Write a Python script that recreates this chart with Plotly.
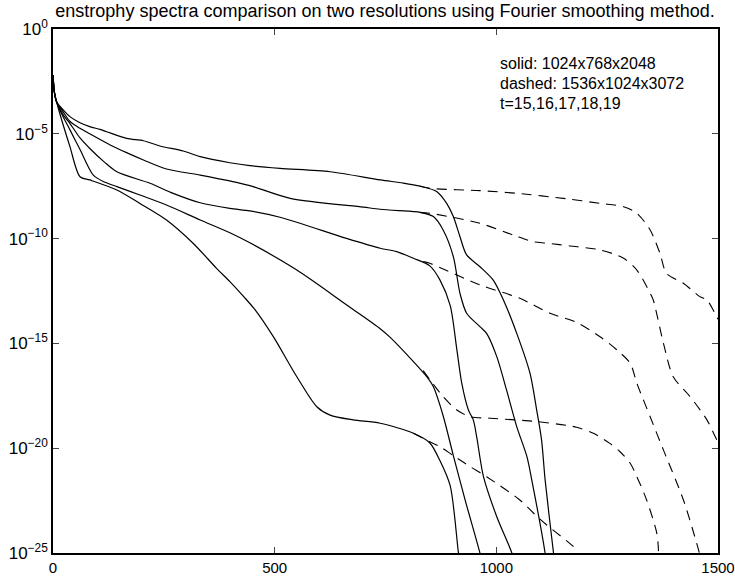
import plotly.graph_objects as go

# Enstrophy spectra, log10 values versus wavenumber k.
# Solid: 1024x768x2048 run, dashed: 1536x1024x3072 run, t = 15..19.

a_solid_k = [0, 3, 8, 23, 38, 61, 83, 106, 121, 166, 204, 241, 294, 332, 399, 444, 512, 625, 738, 790,
             828, 866, 888, 903, 918, 933, 963, 993, 1016, 1046, 1076, 1091, 1102, 1110, 1129, 1132]
a_solid_v = [-2.2, -3.0, -3.47, -3.86, -4.18, -4.47, -4.66, -4.79, -4.9, -5.22, -5.33, -5.58, -5.82, -6.09,
             -6.38, -6.52, -6.65, -6.81, -7.2, -7.35, -7.5, -7.76, -8.32, -8.95, -9.91, -10.78, -11.34,
             -11.98, -12.93, -14.52, -16.43, -18.18, -19.6, -21.5, -25.0, -25.5]
a_dash_k = [828, 850, 963, 1046, 1159, 1234, 1287, 1317, 1347, 1369, 1384, 1422, 1459, 1475, 1497, 1500]
a_dash_v = [-7.5, -7.6, -7.71, -7.84, -8.1, -8.32, -8.48, -8.79, -9.59, -10.7, -11.66, -12.13, -12.77,
            -12.93, -13.73, -13.85]

b_solid_k = [0, 3, 8, 23, 38, 61, 83, 129, 166, 204, 256, 332, 399, 444, 535, 700, 738, 813, 828, 858,
             880, 903, 918, 933, 963, 978, 1001, 1023, 1046, 1069, 1080, 1110, 1113]
b_solid_v = [-2.2, -3.0, -3.47, -3.95, -4.4, -4.74, -5.0, -5.53, -5.9, -6.25, -6.68, -6.97, -7.25, -7.47,
             -8.08, -8.5, -8.6, -8.71, -8.75, -8.95, -9.59, -10.86, -12.61, -13.56, -14.2, -14.52, -15.63,
             -17.22, -18.97, -20.4, -21.52, -25.0, -25.5]
b_dash_k = [828, 850, 963, 1038, 1083, 1114, 1166, 1234, 1287, 1317, 1347, 1354, 1377, 1399, 1437, 1475,
            1497, 1500]
b_dash_v = [-8.75, -8.79, -9.27, -9.83, -10.15, -10.22, -10.35, -10.54, -10.94, -11.5, -12.61, -12.93,
            -15.0, -16.59, -17.54, -18.65, -19.6, -19.75]

c_solid_k = [0, 3, 8, 23, 38, 61, 83, 116, 144, 219, 271, 332, 399, 444, 512, 662, 738, 775, 813, 850,
             873, 896, 911, 922, 937, 948, 956, 971, 1001, 1035, 1038]
c_solid_v = [-2.2, -3.0, -3.47, -4.1, -4.5, -5.2, -5.7, -6.35, -6.81, -7.36, -7.84, -8.29, -8.56, -8.68,
             -8.98, -9.99, -10.46, -10.62, -10.94, -11.3, -11.98, -13.2, -15.31, -16.9, -18.18, -18.65,
             -19.5, -21.36, -23.27, -25.0, -25.3]
c_dash_k = [835, 850, 963, 1053, 1121, 1181, 1234, 1272, 1302, 1317, 1347, 1377, 1422, 1452, 1458]
c_dash_v = [-11.1, -11.18, -12.21, -12.85, -13.56, -14.0, -14.68, -15.31, -15.95, -16.9, -18.5, -20.09,
            -22.47, -24.54, -25.0]

d_solid_k = [0, 3, 8, 23, 38, 61, 91, 116, 144, 196, 256, 332, 399, 444, 550, 647, 677, 738, 760, 813,
             843, 858, 880, 903, 930, 963, 966]
d_solid_v = [-2.2, -3.0, -3.47, -4.2, -4.8, -5.75, -6.97, -7.3, -7.52, -7.92, -8.4, -9.11, -9.72, -10.2,
             -11.5, -12.93, -13.38, -14.3, -14.7, -15.87, -16.59, -17.07, -18.45, -20.35, -22.5, -25.0,
             -25.3]
d_dash_k = [835, 858, 880, 911, 941, 986, 1091, 1181, 1219, 1256, 1279, 1302, 1317, 1339, 1362, 1366]
d_dash_v = [-16.3, -16.95, -17.54, -18.18, -18.5, -18.57, -18.73, -19.0, -19.29, -19.77, -20.17, -20.72,
            -21.36, -22.47, -24.06, -25.0]

e_solid_k = [0, 3, 8, 38, 61, 83, 144, 196, 256, 316, 369, 399, 437, 456, 497, 550, 595, 625, 677, 738,
             813, 850, 873, 896, 914, 917]
e_solid_v = [-2.2, -3.0, -3.47, -5.6, -7.05, -7.2, -7.68, -8.32, -9.11, -10.22, -11.42, -12.05, -12.93,
             -13.4, -14.68, -16.59, -18.02, -18.42, -18.65, -18.81, -19.29, -19.75, -20.6, -21.8, -24.9,
             -25.3]
e_dash_k = [813, 850, 873, 903, 941, 978, 1053, 1099, 1174, 1180]
e_dash_v = [-19.29, -19.69, -19.93, -20.35, -20.88, -21.36, -22.47, -23.4, -24.7, -24.85]

x_tick_vals = [0, 500, 1000, 1500]
y_tick_exps = [0, -5, -10, -15, -20, -25]
y_tick_text = ["10<sup>0</sup>", "10<sup>\u22125</sup>", "10<sup>\u221210</sup>",
               "10<sup>\u221215</sup>", "10<sup>\u221220</sup>", "10<sup>\u221225</sup>"]

title_text = "enstrophy spectra comparison on two resolutions using Fourier smoothing method."
note_lines = ["solid: 1024x768x2048", "dashed: 1536x1024x3072", "t=15,16,17,18,19"]

FONT = "Liberation Sans, Arial, Helvetica, sans-serif"

fig = go.Figure()

solid = [(a_solid_k, a_solid_v), (b_solid_k, b_solid_v), (c_solid_k, c_solid_v),
         (d_solid_k, d_solid_v), (e_solid_k, e_solid_v)]
dashed = [(a_dash_k, a_dash_v), (b_dash_k, b_dash_v), (c_dash_k, c_dash_v),
          (d_dash_k, d_dash_v), (e_dash_k, e_dash_v)]

for k, v in solid:
    fig.add_trace(go.Scatter(
        x=k, y=[10 ** e for e in v], mode="lines",
        line=dict(color="black", width=1.2, shape="spline", smoothing=0.8),
        showlegend=False, hoverinfo="skip"))

for k, v in dashed:
    fig.add_trace(go.Scatter(
        x=k, y=[10 ** e for e in v], mode="lines",
        line=dict(color="black", width=1.1, dash="10px,7px", shape="spline", smoothing=0.8),
        showlegend=False, hoverinfo="skip"))

for i, line in enumerate(note_lines):
    fig.add_annotation(
        x=0.669, y=0.9345 - i * 0.0382, xref="paper", yref="paper",
        xanchor="left", yanchor="middle", text=line, showarrow=False,
        font=dict(family=FONT, size=16, color="black"))

fig.update_layout(
    width=735, height=578,
    margin=dict(l=53, r=17, t=29, b=25),
    paper_bgcolor="white", plot_bgcolor="white",
    title=dict(text=title_text, x=385 / 735, xref="container", xanchor="center",
               y=1 - 11 / 578, yanchor="middle",
               font=dict(family=FONT, size=18, color="black")),
    font=dict(family=FONT, size=17, color="black"),
)

fig.update_xaxes(
    range=[0, 1500], tickvals=x_tick_vals, ticks="inside", ticklen=6, tickwidth=1,
    showline=True, linecolor="black", linewidth=1.5, mirror="all", automargin=False,
    ticklabeloverflow="allow",
    showgrid=False, zeroline=False, tickfont=dict(family=FONT, size=15, color="black"))

fig.update_yaxes(
    type="log", range=[-25, 0], tickvals=[10 ** e for e in y_tick_exps], ticktext=y_tick_text,
    ticks="inside", ticklen=6, tickwidth=1, automargin=False, ticklabeloverflow="allow",
    showline=True, linecolor="black", linewidth=1.5, mirror="all",
    showgrid=False, zeroline=False, tickfont=dict(family=FONT, size=17, color="black"))

fig.write_html("out.html")
